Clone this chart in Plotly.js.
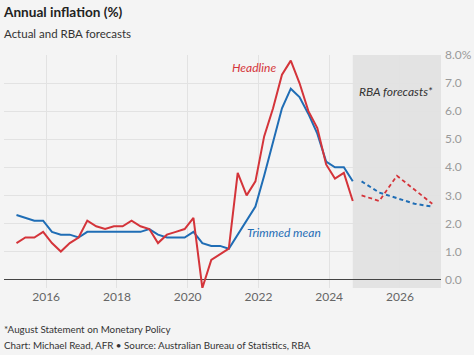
<!DOCTYPE html>
<html>
<head>
<meta charset="utf-8">
<script src="https://cdn.plot.ly/plotly-3.0.1.min.js"></script>
<style>
html,body{margin:0;padding:0;background:#f4f4f4;}
#chart{width:474px;height:355px;}
</style>
</head>
<body>
<div id="chart"></div>
<script>
// Quarterly dates (end month of quarter)
const actualDates = [
  "2015-03-01","2015-06-01","2015-09-01","2015-12-01",
  "2016-03-01","2016-06-01","2016-09-01","2016-12-01",
  "2017-03-01","2017-06-01","2017-09-01","2017-12-01",
  "2018-03-01","2018-06-01","2018-09-01","2018-12-01",
  "2019-03-01","2019-06-01","2019-09-01","2019-12-01",
  "2020-03-01","2020-06-01","2020-09-01","2020-12-01",
  "2021-03-01","2021-06-01","2021-09-01","2021-12-01",
  "2022-03-01","2022-06-01","2022-09-01","2022-12-01",
  "2023-03-01","2023-06-01","2023-09-01","2023-12-01",
  "2024-03-01","2024-06-01","2024-09-01"
];
const headline = [
  1.3,1.5,1.5,1.7,
  1.3,1.0,1.3,1.5,
  2.1,1.9,1.8,1.9,
  1.9,2.1,1.9,1.8,
  1.3,1.6,1.7,1.8,
  2.2,-0.3,0.7,0.9,
  1.1,3.8,3.0,3.5,
  5.1,6.1,7.3,7.8,
  7.0,6.0,5.4,4.1,
  3.6,3.8,2.8
];
const trimmedMean = [
  2.3,2.2,2.1,2.1,
  1.7,1.6,1.6,1.5,
  1.7,1.7,1.7,1.7,
  1.7,1.7,1.7,1.8,
  1.6,1.5,1.5,1.5,
  1.7,1.3,1.2,1.2,
  1.1,1.6,2.1,2.6,
  3.7,4.9,6.1,6.8,
  6.5,5.9,5.2,4.2,
  4.0,4.0,3.5
];
const forecastDates = ["2024-12-01","2025-06-01","2025-12-01","2026-06-01","2026-12-01"];
const headlineForecast = [3.0,2.8,3.7,3.2,2.7];
const trimmedForecast = [3.5,3.1,2.9,2.7,2.6];

const xTickVals = ["2016-01-01","2018-01-01","2020-01-01","2022-01-01","2024-01-01","2026-01-01"];
const xTickText = ["2016","2018","2020","2022","2024","2026"];
const yTickVals = [0,1,2,3,4,5,6,7,8];
const yTickText = ["0.0","1.0","2.0","3.0","4.0","5.0","6.0","7.0","8.0%"];

const RED = "#d4343a";
const BLUE = "#1f6db5";
const FONT = "Lato, 'Noto Sans', sans-serif";

const traces = [
  {x: actualDates, y: trimmedMean, type: "scatter", mode: "lines", name: "Trimmed mean",
   line: {color: BLUE, width: 2}, hoverinfo: "skip"},
  {x: actualDates, y: headline, type: "scatter", mode: "lines", name: "Headline",
   line: {color: RED, width: 2}, hoverinfo: "skip"},
  {x: forecastDates, y: trimmedForecast, type: "scatter", mode: "lines", name: "Trimmed mean forecast",
   line: {color: BLUE, width: 2, dash: "4px,3px"}, hoverinfo: "skip"},
  {x: forecastDates, y: headlineForecast, type: "scatter", mode: "lines", name: "Headline forecast",
   line: {color: RED, width: 1.8, dash: "4px,3px"}, hoverinfo: "skip"}
];

const layout = {
  width: 474, height: 355,
  margin: {l: 4, r: 33, t: 55, b: 67},
  paper_bgcolor: "#f4f4f4",
  plot_bgcolor: "#f4f4f4",
  showlegend: false,
  font: {family: FONT, color: "#333"},
  title: {
    text: "<b>Annual inflation (%)</b>",
    font: {family: FONT, size: 13.6, color: "#222"},
    xref: "container", yref: "container",
    x: 4/474, xanchor: "left",
    y: 1 - 12.5/355, yanchor: "middle"
  },
  xaxis: {
    type: "date",
    range: ["2014-10-23", "2027-03-01"],
    tickvals: xTickVals, ticktext: xTickText,
    showgrid: true, gridcolor: "#e2e2e2", gridwidth: 1,
    zeroline: false, showline: false, ticks: "",
    tickfont: {family: FONT, size: 12, color: "#666"},
    fixedrange: true
  },
  yaxis: {
    side: "right",
    range: [-0.3, 8.0],
    tickvals: yTickVals, ticktext: yTickText,
    showgrid: true, gridcolor: "#e2e2e2", gridwidth: 1,
    zeroline: true, zerolinecolor: "#444", zerolinewidth: 1,
    showline: false, ticks: "",
    ticklabelstandoff: 3,
    tickfont: {family: FONT, size: 12, color: "#9a9a9a"},
    fixedrange: true
  },
  shapes: [
    {type: "rect", xref: "x", yref: "paper",
     x0: "2024-09-01", x1: "2027-03-01", y0: 0, y1: 1,
     fillcolor: "#e3e3e3", line: {width: 0}, layer: "below"}
  ],
  annotations: [
    {text: "Actual and RBA forecasts", xref: "paper", yref: "paper",
     x: 0, xshift: -2, y: (288-34)/233, xanchor: "left", yanchor: "middle", showarrow: false,
     font: {family: FONT, size: 11.5, color: "#333"}},
    {text: "<i>Headline</i>", xref: "paper", yref: "paper",
     x: (254-4)/437, y: (288-67)/233, xanchor: "center", yanchor: "middle", showarrow: false,
     font: {family: FONT, size: 12, color: RED}},
    {text: "<i>Trimmed mean</i>", xref: "paper", yref: "paper",
     x: (284-4)/437, y: (288-232.3)/233, xanchor: "center", yanchor: "middle", showarrow: false,
     font: {family: FONT, size: 12, color: BLUE}},
    {text: "<i>RBA forecasts*</i>", xref: "paper", yref: "paper",
     x: (395.8-4)/437, y: (288-91.7)/233, xanchor: "center", yanchor: "middle", showarrow: false,
     font: {family: FONT, size: 12, color: "#333"}},
    {text: "*August Statement on Monetary Policy", xref: "paper", yref: "paper",
     x: 0, xshift: -2, y: (288-328.5)/233, xanchor: "left", yanchor: "middle", showarrow: false,
     font: {family: FONT, size: 9.8, color: "#333"}},
    {text: "Chart: Michael Read, AFR • Source: Australian Bureau of Statistics, RBA", xref: "paper", yref: "paper",
     x: 0, xshift: -2, y: (288-345)/233, xanchor: "left", yanchor: "middle", showarrow: false,
     font: {family: FONT, size: 9.8, color: "#333"}}
  ]
};

Plotly.newPlot("chart", traces, layout, {displayModeBar: false, staticPlot: true});
</script>
</body>
</html>
